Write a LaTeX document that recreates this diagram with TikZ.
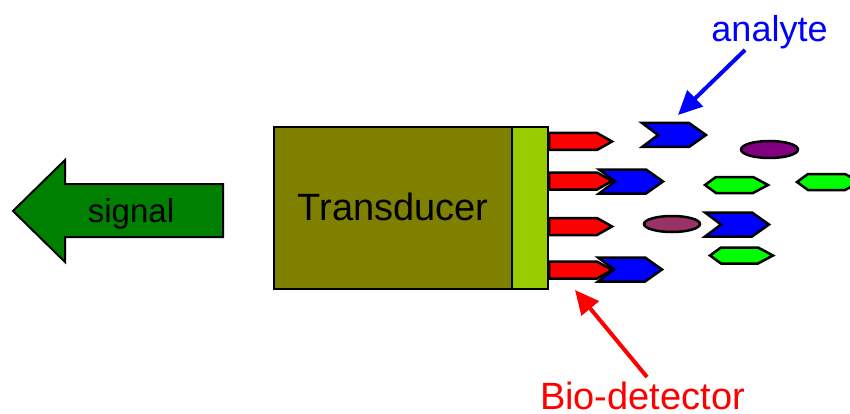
\documentclass[tikz,border=0pt]{standalone}
\usepackage{fontspec}
\setmainfont{Liberation Sans}
\usetikzlibrary{arrows.meta}
\definecolor{olivebox}{HTML}{808000}
\definecolor{stripgreen}{HTML}{99CC00}
\definecolor{darkgreen}{HTML}{008000}
\definecolor{limegreen}{HTML}{00FF00}
\definecolor{purplemol}{HTML}{800080}
\definecolor{mauvemol}{HTML}{993366}
\begin{document}
\begin{tikzpicture}[x=1pt,y=-1pt,
  mol/.style={draw=black,line width=2.5pt,line join=miter},
  lbl/.style={anchor=base,inner sep=0pt,font=\fontsize{38}{44}\selectfont},
  pointer/.style={line width=4pt,-{Triangle[length=24pt,width=22pt]}}]
\useasboundingbox (0,0) rectangle (850,414);

% signal arrow
\filldraw[fill=darkgreen,draw=black,line width=2pt,line join=miter]
  (13,211) -- (65,160) -- (65,184) -- (223,184) -- (223,237) -- (65,237) -- (65,262) -- cycle;
\node[lbl,font=\fontsize{33}{40}\selectfont] (signal) at (131,222) {signal};

% transducer
\node[draw=black,line width=2.5pt,fill=olivebox,minimum width=238pt,minimum height=162pt,inner sep=0pt] (trans) at (393,208) {};
\node[lbl] (transtext) at (393,220) {Transducer};

% receptors
\foreach \y in {141.5,181,226.5,270}
  \filldraw[mol,fill=red] (549,\y-8.5) -- (597,\y-8.5) -- (612,\y) -- (597,\y+8.5) -- (549,\y+8.5) -- cycle;

% strip
\node[draw=black,line width=2.5pt,fill=stripgreen,minimum width=36pt,minimum height=162pt,inner sep=0pt] (strip) at (530,208) {};

% analytes (chevrons)
\foreach \x/\y in {642/135,599/181.5,598/269.5,705/224.5}
  \filldraw[mol,fill=blue] (\x,\y-12) -- (\x+47,\y-12) -- (\x+64,\y) -- (\x+47,\y+12) -- (\x,\y+12) -- (\x+16,\y) -- cycle;

% green hexagons
\foreach \x/\y in {705/185,797/182,710/255.5}
  \filldraw[mol,fill=limegreen] (\x,\y) -- (\x+11,\y-8) -- (\x+48,\y-8) -- (\x+63,\y) -- (\x+48,\y+8) -- (\x+11,\y+8) -- cycle;

% ellipses
\filldraw[mol,fill=purplemol] (769.5,149.5) ellipse [x radius=28.5, y radius=8.5];
\filldraw[mol,fill=mauvemol] (672,224) ellipse [x radius=28, y radius=8];

% labels and pointers
\node[lbl,text=blue,font=\fontsize{36}{42}\selectfont] (analyte) at (769.5,42) {analyte};
\coordinate (atail) at (745,50);
\coordinate (atip) at (678,115);
\draw[pointer,blue] (atail) -- (atip);

\node[lbl,text=red] (bio) at (642.5,409) {Bio-detector};
\coordinate (btail) at (647,377);
\coordinate (btip) at (575,290);
\draw[pointer,red] (btail) -- (btip);
\end{tikzpicture}
\end{document}
